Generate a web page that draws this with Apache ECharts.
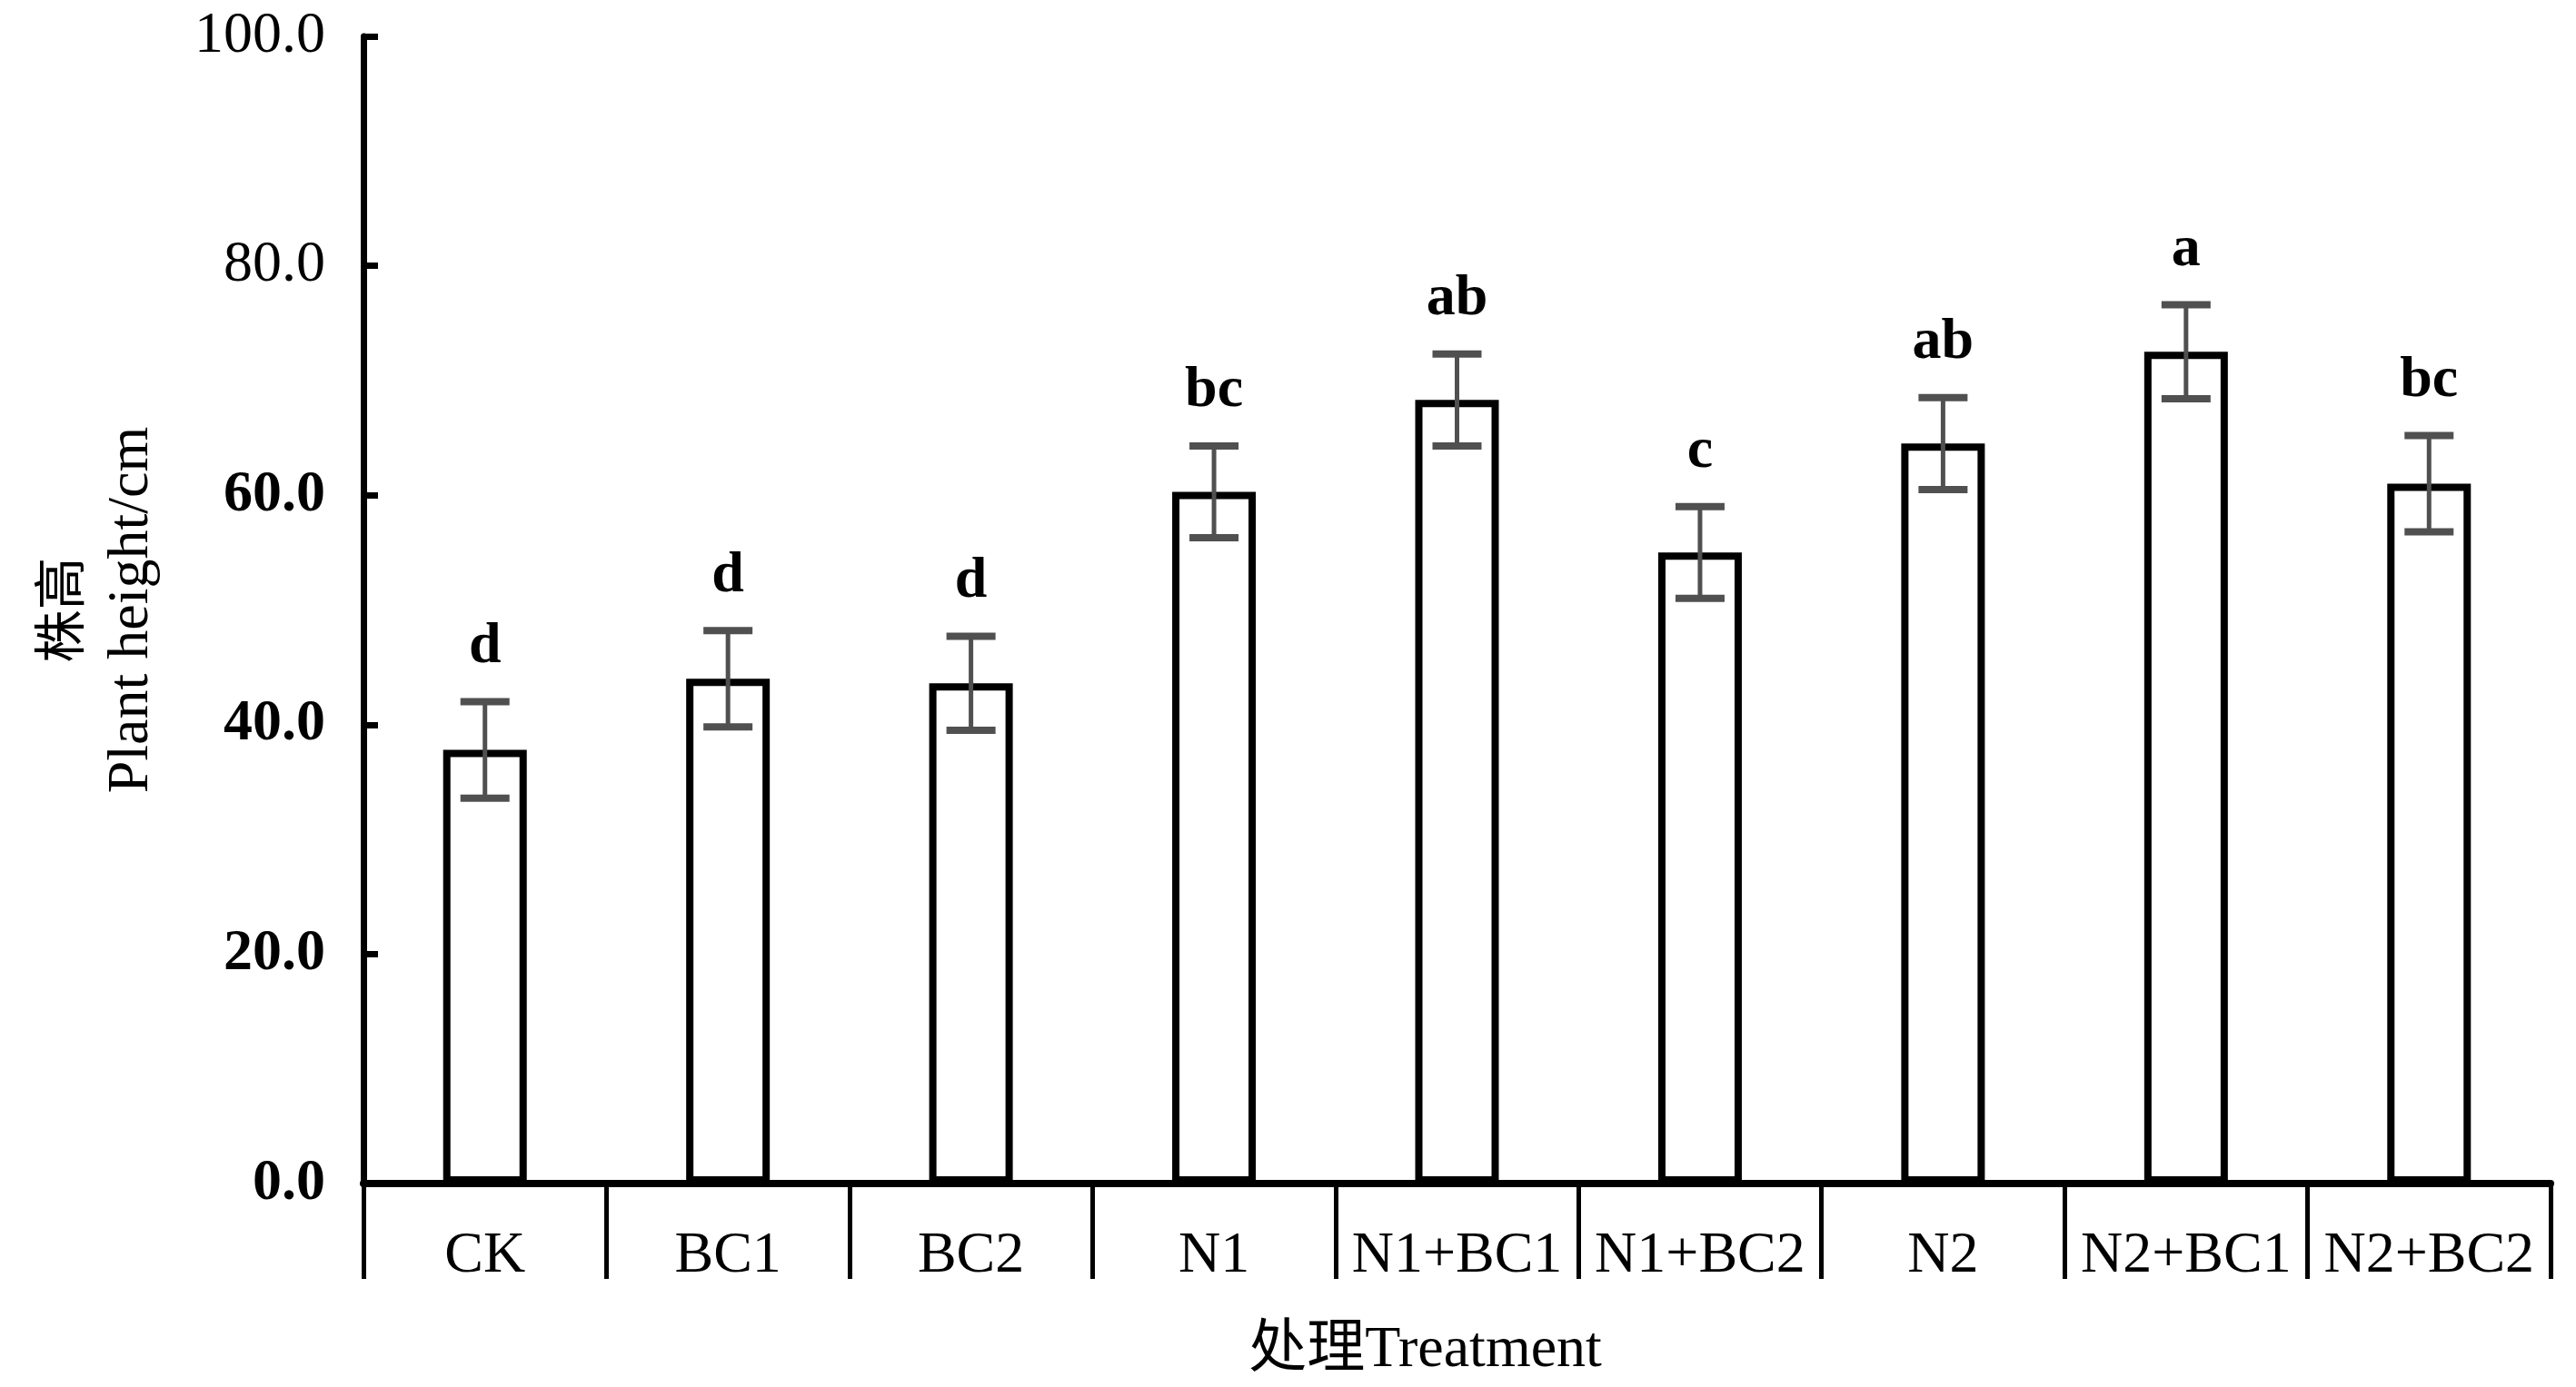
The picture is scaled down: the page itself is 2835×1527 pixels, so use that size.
<!DOCTYPE html>
<html><head><meta charset="utf-8">
<script src="https://cdn.jsdelivr.net/npm/echarts@6/dist/echarts.min.js"></script>
<style>html,body{margin:0;padding:0;background:#fff}#c{width:2835px;height:1527px}</style>
</head><body><div id="c"></div>
<script>
const categories = ['CK', 'BC1', 'BC2', 'N1', 'N1+BC1', 'N1+BC2', 'N2', 'N2+BC1', 'N2+BC2'];
const heights = [37.8, 44.0, 43.6, 60.3, 68.3, 55.0, 64.5, 72.5, 61.0];
const errors = [4.2, 4.2, 4.1, 4.0, 4.0, 4.0, 4.0, 4.1, 4.2];
const letters = ['d', 'd', 'd', 'bc', 'ab', 'c', 'ab', 'a', 'bc'];
const boldTicks = ['0.0', '20.0', '40.0', '60.0'];

const SERIF = '"Liberation Serif", "Times New Roman", serif';
const CJK = '"Noto Sans CJK SC"';
const MIX = '"Liberation Serif", "Noto Sans CJK SC", serif';

const errData = categories.map((c, i) => [i, heights[i] - errors[i], heights[i] + errors[i]]);

const chart = echarts.init(document.getElementById('c'));
chart.setOption({
  backgroundColor: '#fff',
  animation: false,
  grid: { left: 400, right: 28, top: 40, bottom: 224, containLabel: false, outerBoundsMode: 'none' },
  xAxis: {
    type: 'category',
    data: categories,
    boundaryGap: true,
    name: '处理Treatment',
    nameLocation: 'middle',
    nameGap: 152,
    nameTextStyle: { fontFamily: MIX, fontSize: 64, color: '#000', padding: [0, 70, 0, 0] },
    axisLine: { show: true, lineStyle: { color: '#000', width: 8 } },
    axisTick: { show: true, interval: 0, alignWithLabel: false, length: 105, lineStyle: { color: '#000', width: 5 } },
    axisLabel: { interval: 0, margin: 48, fontFamily: SERIF, fontSize: 64, color: '#000' },
    splitLine: { show: false }
  },
  yAxis: {
    type: 'value',
    min: 0, max: 100, interval: 20,
    name: '{a|株高}\n{b|Plant height/cm}',
    nameLocation: 'middle',
    nameGap: 215,
    nameMoveOverlap: false,
    nameTextStyle: {
      color: '#000',
      rich: {
        a: { fontFamily: CJK, fontSize: 58, lineHeight: 80, color: '#000' },
        b: { fontFamily: SERIF, fontSize: 64, lineHeight: 80, color: '#000' }
      }
    },
    axisLine: { show: true, lineStyle: { color: '#000', width: 7 } },
    axisTick: { show: true, inside: true, length: 16, lineStyle: { color: '#000', width: 7 } },
    axisLabel: {
      margin: 42,
      formatter: v => {
        const s = v.toFixed(1);
        return boldTicks.indexOf(s) >= 0 ? '{b|' + s + '}' : '{r|' + s + '}';
      },
      rich: {
        b: { fontFamily: SERIF, fontSize: 64, fontWeight: 'bold', color: '#000' },
        r: { fontFamily: SERIF, fontSize: 64, color: '#000' }
      }
    },
    splitLine: { show: false }
  },
  series: [
    {
      type: 'bar',
      data: heights,
      barWidth: 92,
      itemStyle: { color: '#fff', borderColor: '#000', borderWidth: 8 },
      z: 2
    },
    {
      type: 'custom',
      data: errData,
      encode: { x: 0, y: [1, 2] },
      z: 3,
      renderItem: (params, api) => {
        const i = api.value(0);
        const lo = api.coord([i, api.value(1)]);
        const hi = api.coord([i, api.value(2)]);
        const hw = 27;
        const st = { stroke: '#505050', lineWidth: 5 };
        const cap = { stroke: '#505050', lineWidth: 8 };
        return {
          type: 'group',
          children: [
            { type: 'line', shape: { x1: hi[0], y1: hi[1], x2: lo[0], y2: lo[1] }, style: st },
            { type: 'line', shape: { x1: hi[0] - hw, y1: hi[1], x2: hi[0] + hw, y2: hi[1] }, style: cap },
            { type: 'line', shape: { x1: lo[0] - hw, y1: lo[1], x2: lo[0] + hw, y2: lo[1] }, style: cap },
            { type: 'text', x: hi[0], y: hi[1] - 28,
              style: { text: letters[i], fontFamily: SERIF, fontSize: 64, fontWeight: 'bold', fill: '#000', align: 'center', verticalAlign: 'bottom' } }
          ]
        };
      }
    }
  ]
});
</script>
</body></html>
